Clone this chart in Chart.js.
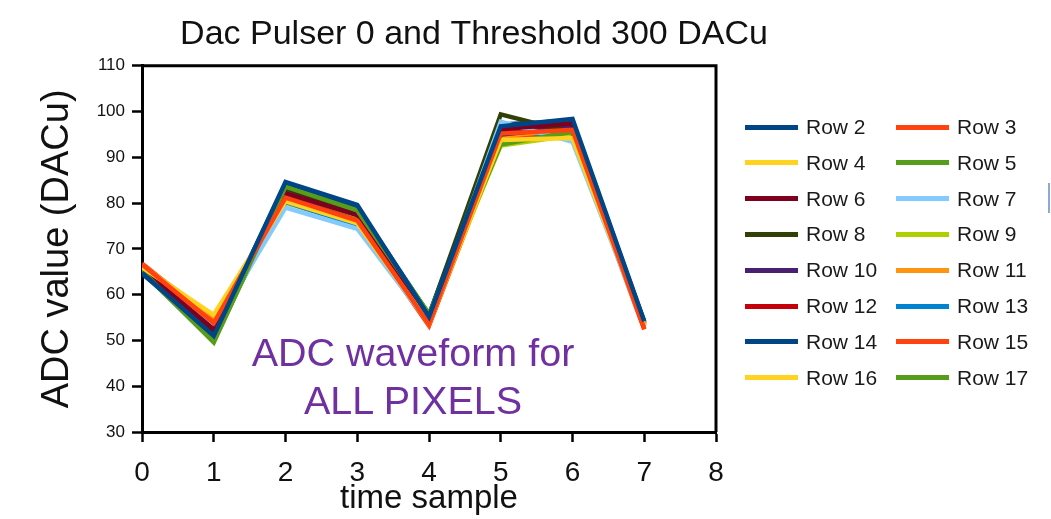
<!DOCTYPE html>
<html>
<head>
<meta charset="utf-8">
<script src="https://cdn.jsdelivr.net/npm/chart.js@4/dist/chart.umd.min.js"></script>
<style>
  html, body { margin: 0; padding: 0; background: #fff; }
  #page { position: relative; width: 1051px; height: 519px; overflow: hidden; font-family: "Liberation Sans", Arial, sans-serif; }
  #plot { position: absolute; left: 0; top: 0; width: 948px; height: 519px; }
  #legend { position: absolute; left: 0; top: 0; }
  .item { position: absolute; height: 36px; display: flex; align-items: center; font-size: 21px; color: #1a1a1a; white-space: nowrap; }
  .item span.swatch { display: inline-block; width: 53px; height: 5px; margin-right: 8px; }
  #note { position: absolute; left: 213px; top: 328px; width: 400px; text-align: center; color: #7030a0; font-size: 39.5px; line-height: 48px; }
  #edge { position: absolute; left: 1048px; top: 183px; width: 2px; height: 30px; background: #8fa8d4; }
</style>
</head>
<body>
<div id="page">
  <div id="plot"><canvas id="waveform"></canvas></div>
  <div id="legend"></div>
  <div id="note">ADC waveform for<br>ALL PIXELS</div>
  <div id="edge"></div>
</div>
<script>
const timeSample = [0, 1, 2, 3, 4, 5, 6, 7];

const rowNames = ['Row 2', 'Row 3', 'Row 4', 'Row 5', 'Row 6', 'Row 7', 'Row 8', 'Row 9',
                  'Row 10', 'Row 11', 'Row 12', 'Row 13', 'Row 14', 'Row 15', 'Row 16', 'Row 17'];
const rowColors = ['#004586', '#ff420e', '#ffd320', '#579d1c', '#7e0021', '#83caff', '#314004', '#aecf00',
                   '#4b1f6f', '#ff950e', '#c5000b', '#0084d1', '#004586', '#ff420e', '#ffd320', '#579d1c'];

// ADC value per time sample, one array per row
const row2  = [64.8, 51.0, 84.6, 79.6, 55.2, 96.8, 98.4, 54.2];
const row3  = [66.6, 53.8, 81.2, 76.2, 53.6, 95.2, 96.0, 52.6];
const row4  = [66.0, 55.6, 80.4, 75.6, 53.8, 93.8, 94.2, 53.4];
const row5  = [65.2, 49.6, 83.6, 78.4, 55.8, 92.8, 95.6, 54.0];
const row6  = [65.6, 52.4, 82.2, 77.4, 54.4, 96.2, 97.4, 53.6];
const row7  = [65.4, 52.8, 79.0, 74.4, 53.8, 97.8, 93.4, 53.2];
const row8  = [65.0, 51.6, 83.2, 78.0, 55.4, 99.4, 95.4, 53.8];
const row9  = [65.6, 51.0, 82.4, 77.2, 55.0, 92.6, 94.8, 53.4];
const row10 = [65.8, 52.6, 81.8, 77.0, 54.2, 95.0, 96.6, 53.6];
const row11 = [66.4, 55.2, 80.8, 76.8, 53.6, 94.6, 96.2, 53.0];
const row12 = [66.0, 53.4, 81.6, 76.6, 54.0, 95.6, 96.8, 53.2];
const row13 = [65.0, 51.8, 80.2, 75.2, 54.6, 96.4, 94.0, 53.8];
const row14 = [64.6, 51.4, 84.2, 79.2, 55.6, 97.2, 98.0, 54.0];
const row15 = [66.8, 54.2, 80.6, 75.8, 53.2, 94.2, 95.2, 52.4];
const row16 = [66.2, 55.0, 80.0, 75.4, 53.4, 93.4, 94.6, 53.2];
const row17 = [65.0, 49.8, 83.0, 78.6, 55.6, 93.0, 95.0, 54.2];

const rowValues = [row2, row3, row4, row5, row6, row7, row8, row9,
                   row10, row11, row12, row13, row14, row15, row16, row17];

const yTicks = [30, 40, 50, 60, 70, 80, 90, 100, 110];
const xTicks = [0, 1, 2, 3, 4, 5, 6, 7, 8];

const datasets = rowValues.map((vals, i) => ({
    label: rowNames[i],
    data: vals.map((v, j) => ({ x: timeSample[j], y: v })),
    borderColor: rowColors[i],
    backgroundColor: rowColors[i],
    borderWidth: 4.5,
    pointRadius: 0,
    tension: 0,
    fill: false
}));

// closes the plot box on the top and right sides
const frame = {
    id: 'frame',
    afterDraw(chart) {
        const { ctx, chartArea: a } = chart;
        ctx.save();
        ctx.strokeStyle = '#000';
        ctx.lineWidth = 3;
        ctx.beginPath();
        ctx.moveTo(a.left, a.top);
        ctx.lineTo(a.right, a.top);
        ctx.lineTo(a.right, a.bottom);
        ctx.stroke();
        ctx.restore();
    }
};

new Chart(document.getElementById('waveform'), {
    type: 'line',
    data: { datasets: datasets },
    plugins: [frame],
    options: {
        responsive: true,
        maintainAspectRatio: false,
        animation: false,
        layout: { padding: 0 },
        plugins: {
            legend: { display: false },
            tooltip: { enabled: false },
            title: {
                display: true,
                text: 'Dac Pulser 0 and Threshold 300 DACu',
                color: '#111',
                font: { family: 'Liberation Sans', size: 34, weight: 'normal', lineHeight: 1.2 },
                padding: { top: 14, bottom: 11 }
            }
        },
        scales: {
            x: {
                type: 'linear',
                min: 0,
                max: 8,
                afterBuildTicks: s => { s.ticks = xTicks.map(v => ({ value: v })); },
                afterFit: s => { s.height = 87; },
                border: { display: true, color: '#000', width: 3 },
                grid: { drawOnChartArea: false, drawTicks: true, tickLength: 10, tickWidth: 2.5, tickColor: '#000' },
                ticks: { color: '#111', padding: 14, maxRotation: 0, font: { family: 'Liberation Sans', size: 28 } },
                title: {
                    display: true,
                    text: 'time sample',
                    color: '#111',
                    font: { family: 'Liberation Sans', size: 33, lineHeight: 1 },
                    padding: { top: 0, bottom: 4 }
                }
            },
            y: {
                min: 30,
                max: 110,
                afterBuildTicks: s => { s.ticks = yTicks.map(v => ({ value: v })); },
                afterFit: s => { s.width = 142; },
                border: { display: true, color: '#000', width: 3 },
                grid: { drawOnChartArea: false, drawTicks: true, tickLength: 10, tickWidth: 2.5, tickColor: '#000' },
                ticks: { color: '#111', padding: 7, font: { family: 'Liberation Sans', size: 17 } },
                title: {
                    display: true,
                    text: 'ADC value (DACu)',
                    color: '#111',
                    font: { family: 'Liberation Sans', size: 38, lineHeight: 1.2 },
                    padding: { top: 35, bottom: 0 }
                }
            },
            // empty right-hand axis that holds the space beside the plot
            side: {
                position: 'right',
                display: true,
                afterFit: s => { s.width = 232; },
                border: { display: false },
                grid: { display: false },
                ticks: { display: false }
            }
        }
    }
});

// two-column legend, rows filled left to right
const legend = document.getElementById('legend');
rowNames.forEach((name, i) => {
    const col = i % 2, r = Math.floor(i / 2);
    const item = document.createElement('div');
    item.className = 'item';
    item.style.left = (745 + col * 151) + 'px';
    item.style.top = (127 + r * 35.8 - 18) + 'px';
    const sw = document.createElement('span');
    sw.className = 'swatch';
    sw.style.background = rowColors[i];
    item.appendChild(sw);
    item.appendChild(document.createTextNode(name));
    legend.appendChild(item);
});
</script>
</body>
</html>
